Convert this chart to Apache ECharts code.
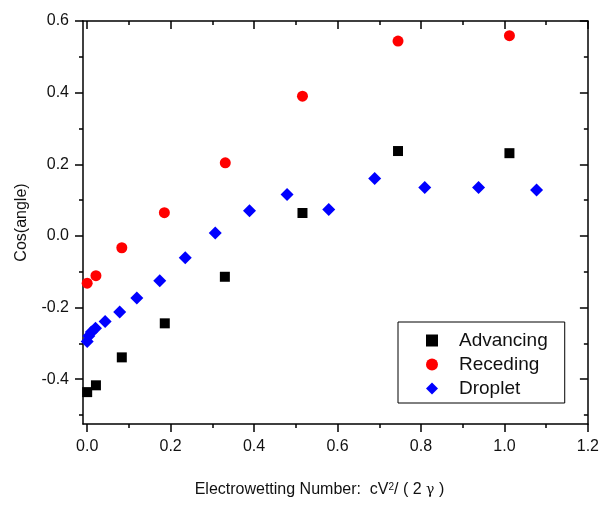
<!DOCTYPE html>
<html>
<head>
<meta charset="utf-8">
<script src="https://cdn.jsdelivr.net/npm/echarts@6/dist/echarts.min.js"></script>
<style>
  html, body { margin: 0; padding: 0; background: #fff; }
  #main { width: 602px; height: 505px; }
</style>
</head>
<body>
<div id="main"></div>
<script>
// data
var advX = [0, 0.021, 0.083, 0.186, 0.330, 0.516, 0.745, 1.012];
var advY = [-0.436, -0.417, -0.339, -0.244, -0.114, 0.064, 0.237, 0.231];
var recX = [0, 0.021, 0.083, 0.185, 0.331, 0.516, 0.745, 1.012];
var recY = [-0.132, -0.111, -0.033, 0.065, 0.204, 0.390, 0.544, 0.559];
var dropX = [0, 0.004, 0.010, 0.020, 0.043, 0.078, 0.119, 0.174, 0.235, 0.307, 0.389, 0.479, 0.579, 0.689, 0.809, 0.938, 1.077];
var dropY = [-0.295, -0.279, -0.268, -0.258, -0.239, -0.212, -0.173, -0.125, -0.061, 0.008, 0.070, 0.116, 0.074, 0.160, 0.135, 0.135, 0.128];

var xMajor = [0, 0.2, 0.4, 0.6, 0.8, 1.0, 1.2];
var xMinor = [0.1, 0.3, 0.5, 0.7, 0.9, 1.1];
var yMajor = [-0.4, -0.2, 0, 0.2, 0.4, 0.6];
var yMinor = [-0.5, -0.3, -0.1, 0.1, 0.3, 0.5];

var xMin = -0.01, xMax = 1.2;
var yMin = -0.525, yMax = 0.6;

var font = 'Liberation Sans';

function pairs(xs, ys) {
  var out = [];
  for (var i = 0; i < xs.length; i++) out.push([xs[i], ys[i]]);
  return out;
}

// one axis per tick set (major / minor, inner / outer)
function mkAxis(pos, lo, hi, vals, len, inside, label, line, margin) {
  return {
    type: 'value', position: pos, min: lo, max: hi,
    splitLine: { show: false },
    axisLine: { show: line, onZero: false, lineStyle: { color: '#000', width: 1.5 } },
    axisTick: { show: true, customValues: vals, length: len, inside: inside,
                lineStyle: { color: '#000', width: 1.5 } },
    axisLabel: label ? { show: true, customValues: vals, margin: margin, color: '#111',
                fontFamily: font, fontSize: 16,
                formatter: function (v) { return v.toFixed(1); } } : { show: false }
  };
}

var xAxes = [
  mkAxis('bottom', xMin, xMax, xMajor, 8, false, true, true, 15),
  mkAxis('bottom', xMin, xMax, xMinor, 4, false, false, false),
  mkAxis('top', xMin, xMax, xMajor, 8, true, false, true),
  mkAxis('top', xMin, xMax, xMinor, 4, true, false, false)
];
xAxes[0].name = '{a|Electrowetting Number:  cV}{s|2}{a|/ ( 2 }{g|γ}{a| )}';
xAxes[0].nameLocation = 'middle';
xAxes[0].nameGap = 58;
xAxes[0].nameMoveOverlap = false;
xAxes[0].nameTextStyle = {
  padding: [0, 32, 0, 0],
  rich: {
    a: { fontFamily: font, fontSize: 16, color: '#111' },
    s: { fontFamily: font, fontSize: 10, color: '#111', verticalAlign: 'top', lineHeight: 12 },
    g: { fontFamily: 'DejaVu Serif', fontSize: 14, color: '#111' }
  }
};

var yAxes = [
  mkAxis('left', yMin, yMax, yMajor, 8, false, true, true, 14),
  mkAxis('left', yMin, yMax, yMinor, 4, false, false, false),
  mkAxis('right', yMin, yMax, yMajor, 8, true, false, true),
  mkAxis('right', yMin, yMax, yMinor, 4, true, false, false)
];
yAxes[0].name = 'Cos(angle)';
yAxes[0].nameLocation = 'middle';
yAxes[0].nameGap = 53;
yAxes[0].nameMoveOverlap = false;
yAxes[0].nameTextStyle = { fontFamily: font, fontSize: 16, color: '#111' };

var myChart = echarts.init(document.getElementById('main'));
var option = {
  backgroundColor: '#fff',
  animation: false,
  grid: { left: 83, right: 10, top: 21, bottom: 81, containLabel: false },
  legend: {
    orient: 'vertical',
    left: 398, top: 322,
    padding: [9, 17, 5, 28],
    itemGap: 5,
    itemWidth: 12, itemHeight: 12,
    borderColor: '#000', borderWidth: 1,
    textStyle: { fontFamily: font, fontSize: 19, color: '#111', padding: [0, 0, 0, 16] },
    data: [
      { name: 'Advancing', icon: 'rect' },
      { name: 'Receding', icon: 'circle' },
      { name: 'Droplet', icon: 'diamond' }
    ]
  },
  xAxis: xAxes,
  yAxis: yAxes,
  series: [
    { name: 'Advancing', type: 'scatter', symbol: 'rect', symbolSize: 10,
      itemStyle: { color: '#000', opacity: 1 }, data: pairs(advX, advY) },
    { name: 'Receding', type: 'scatter', symbol: 'circle', symbolSize: 11,
      itemStyle: { color: '#ff0000', opacity: 1 }, data: pairs(recX, recY) },
    { name: 'Droplet', type: 'scatter', symbol: 'diamond', symbolSize: 13,
      itemStyle: { color: '#0000ff', opacity: 1 }, data: pairs(dropX, dropY) }
  ]
};
myChart.setOption(option);
</script>
</body>
</html>
